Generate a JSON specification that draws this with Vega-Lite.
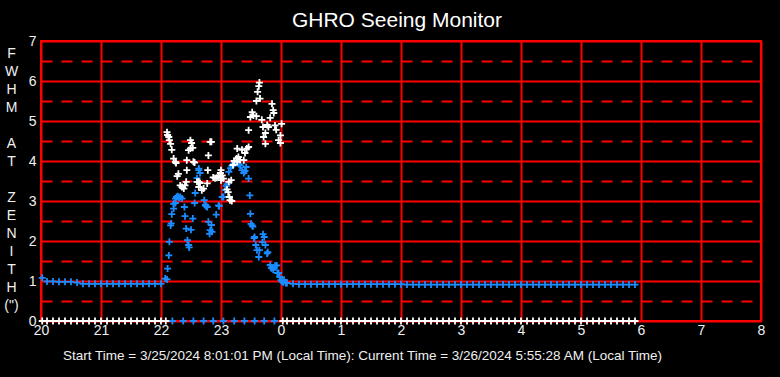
{
"$schema": "https://vega.github.io/schema/vega-lite/v6.json",
"width": 720, "height": 280,
"autosize": {"type": "none"},
"padding": {"left": 41, "top": 41, "right": 19, "bottom": 56},
"background": "#000000",
"title": {"text": "GHRO Seeing Monitor", "color": "#ffffff", "font": "Liberation Sans", "fontSize": 21, "fontWeight": "normal", "anchor": "middle", "dx": -4, "offset": 3},
"config": {"view": {"stroke": "#ff0000", "strokeWidth": 2}},
"data": {"values": [
{"h":20.02,"f":1.08,"s":"blue"},{"h":20.1,"f":0.99,"s":"blue"},{"h":20.2,"f":0.99,"s":"blue"},{"h":20.3,"f":0.98,"s":"blue"},{"h":20.4,"f":0.98,"s":"blue"},{"h":20.5,"f":0.98,"s":"blue"},{"h":20.6,"f":0.96,"s":"blue"},{"h":20.7,"f":0.93,"s":"blue"},{"h":20.8,"f":0.93,"s":"blue"},{"h":20.9,"f":0.93,"s":"blue"},{"h":21.0,"f":0.93,"s":"blue"},{"h":21.1,"f":0.93,"s":"blue"},{"h":21.2,"f":0.93,"s":"blue"},{"h":21.3,"f":0.93,"s":"blue"},{"h":21.4,"f":0.93,"s":"blue"},{"h":21.5,"f":0.93,"s":"blue"},{"h":21.6,"f":0.93,"s":"blue"},{"h":21.7,"f":0.93,"s":"blue"},{"h":21.8,"f":0.93,"s":"blue"},{"h":21.9,"f":0.93,"s":"blue"},{"h":22.0,"f":0.93,"s":"blue"},{"h":22.07,"f":1.06,"s":"blue"},
{"h":22.1,"f":1.04,"s":"blue"},{"h":22.11,"f":1.31,"s":"blue"},{"h":22.13,"f":1.64,"s":"blue"},{"h":22.14,"f":1.98,"s":"blue"},{"h":22.16,"f":2.39,"s":"blue"},{"h":22.17,"f":2.44,"s":"blue"},{"h":22.18,"f":2.67,"s":"blue"},{"h":22.21,"f":2.81,"s":"blue"},{"h":22.21,"f":2.93,"s":"blue"},{"h":22.24,"f":2.95,"s":"blue"},{"h":22.24,"f":3.06,"s":"blue"},{"h":22.26,"f":3.1,"s":"blue"},{"h":22.28,"f":3.12,"s":"blue"},{"h":22.3,"f":3.08,"s":"blue"},{"h":22.32,"f":3.1,"s":"blue"},{"h":22.35,"f":3.06,"s":"blue"},{"h":22.39,"f":2.85,"s":"blue"},{"h":22.4,"f":2.62,"s":"blue"},{"h":22.42,"f":2.31,"s":"blue"},{"h":22.44,"f":2.02,"s":"blue"},{"h":22.46,"f":1.9,"s":"blue"},{"h":22.47,"f":1.84,"s":"blue"},{"h":22.5,"f":2.28,"s":"blue"},{"h":22.53,"f":2.56,"s":"blue"},{"h":22.56,"f":2.95,"s":"blue"},{"h":22.57,"f":3.2,"s":"blue"},{"h":22.6,"f":3.57,"s":"blue"},{"h":22.63,"f":3.77,"s":"blue"},{"h":22.63,"f":3.81,"s":"blue"},{"h":22.65,"f":3.7,"s":"blue"},{"h":22.72,"f":3.02,"s":"blue"},{"h":22.74,"f":2.9,"s":"blue"},{"h":22.75,"f":2.87,"s":"blue"},{"h":22.77,"f":2.85,"s":"blue"},{"h":22.79,"f":2.48,"s":"blue"},{"h":22.81,"f":2.18,"s":"blue"},{"h":22.82,"f":2.27,"s":"blue"},{"h":22.84,"f":2.4,"s":"blue"},{"h":22.85,"f":2.23,"s":"blue"},{"h":22.92,"f":2.66,"s":"blue"},{"h":22.96,"f":2.89,"s":"blue"},{"h":22.97,"f":2.87,"s":"blue"},{"h":23.02,"f":3.1,"s":"blue"},{"h":23.04,"f":3.1,"s":"blue"},{"h":23.07,"f":3.27,"s":"blue"},{"h":23.09,"f":3.37,"s":"blue"},{"h":23.1,"f":3.42,"s":"blue"},{"h":23.13,"f":3.73,"s":"blue"},{"h":23.16,"f":3.82,"s":"blue"},{"h":23.18,"f":3.88,"s":"blue"},{"h":23.21,"f":3.92,"s":"blue"},{"h":23.24,"f":3.95,"s":"blue"},{"h":23.27,"f":3.95,"s":"blue"},{"h":23.3,"f":3.92,"s":"blue"},{"h":23.32,"f":3.89,"s":"blue"},{"h":23.35,"f":3.77,"s":"blue"},{"h":23.38,"f":3.7,"s":"blue"},{"h":23.4,"f":3.75,"s":"blue"},{"h":23.42,"f":3.85,"s":"blue"},{"h":23.46,"f":3.56,"s":"blue"},{"h":23.48,"f":3.14,"s":"blue"},{"h":23.49,"f":2.68,"s":"blue"},{"h":23.5,"f":2.43,"s":"blue"},{"h":23.52,"f":2.39,"s":"blue"},{"h":23.53,"f":2.36,"s":"blue"},{"h":23.55,"f":2.07,"s":"blue"},{"h":23.56,"f":2.1,"s":"blue"},{"h":23.58,"f":1.9,"s":"blue"},{"h":23.6,"f":1.77,"s":"blue"},{"h":23.63,"f":1.6,"s":"blue"},{"h":23.64,"f":1.77,"s":"blue"},{"h":23.69,"f":1.97,"s":"blue"},{"h":23.7,"f":2.17,"s":"blue"},{"h":23.72,"f":2.1,"s":"blue"},{"h":23.74,"f":1.9,"s":"blue"},{"h":23.77,"f":1.69,"s":"blue"},{"h":23.78,"f":1.72,"s":"blue"},{"h":23.82,"f":1.4,"s":"blue"},{"h":23.84,"f":1.32,"s":"blue"},{"h":23.85,"f":1.34,"s":"blue"},{"h":23.87,"f":1.28,"s":"blue"},{"h":23.9,"f":1.38,"s":"blue"},{"h":23.93,"f":1.39,"s":"blue"},{"h":23.94,"f":1.2,"s":"blue"},{"h":23.96,"f":1.2,"s":"blue"},{"h":23.98,"f":1.1,"s":"blue"},{"h":24.0,"f":1.02,"s":"blue"},{"h":24.02,"f":0.98,"s":"blue"},{"h":24.04,"f":0.97,"s":"blue"},{"h":24.05,"f":1.03,"s":"blue"},{"h":24.08,"f":0.95,"s":"blue"},
{"h":24.1,"f":0.95,"s":"blue"},{"h":24.2,"f":0.93,"s":"blue"},{"h":24.3,"f":0.92,"s":"blue"},{"h":24.4,"f":0.92,"s":"blue"},{"h":24.5,"f":0.92,"s":"blue"},{"h":24.6,"f":0.92,"s":"blue"},{"h":24.7,"f":0.92,"s":"blue"},{"h":24.8,"f":0.92,"s":"blue"},{"h":24.9,"f":0.92,"s":"blue"},{"h":25.0,"f":0.92,"s":"blue"},{"h":25.1,"f":0.92,"s":"blue"},{"h":25.2,"f":0.92,"s":"blue"},{"h":25.3,"f":0.92,"s":"blue"},{"h":25.4,"f":0.92,"s":"blue"},{"h":25.5,"f":0.92,"s":"blue"},{"h":25.6,"f":0.92,"s":"blue"},{"h":25.7,"f":0.92,"s":"blue"},{"h":25.8,"f":0.92,"s":"blue"},{"h":25.9,"f":0.92,"s":"blue"},{"h":26.0,"f":0.92,"s":"blue"},{"h":26.1,"f":0.91,"s":"blue"},{"h":26.2,"f":0.91,"s":"blue"},{"h":26.3,"f":0.91,"s":"blue"},{"h":26.4,"f":0.91,"s":"blue"},{"h":26.5,"f":0.91,"s":"blue"},{"h":26.6,"f":0.91,"s":"blue"},{"h":26.7,"f":0.91,"s":"blue"},{"h":26.8,"f":0.91,"s":"blue"},{"h":26.9,"f":0.91,"s":"blue"},{"h":27.0,"f":0.91,"s":"blue"},{"h":27.1,"f":0.91,"s":"blue"},{"h":27.2,"f":0.91,"s":"blue"},{"h":27.3,"f":0.91,"s":"blue"},{"h":27.4,"f":0.91,"s":"blue"},{"h":27.5,"f":0.91,"s":"blue"},{"h":27.6,"f":0.91,"s":"blue"},{"h":27.7,"f":0.91,"s":"blue"},{"h":27.8,"f":0.91,"s":"blue"},{"h":27.9,"f":0.91,"s":"blue"},{"h":28.0,"f":0.91,"s":"blue"},{"h":28.1,"f":0.91,"s":"blue"},{"h":28.2,"f":0.91,"s":"blue"},{"h":28.3,"f":0.91,"s":"blue"},{"h":28.4,"f":0.91,"s":"blue"},{"h":28.5,"f":0.91,"s":"blue"},{"h":28.6,"f":0.91,"s":"blue"},{"h":28.7,"f":0.91,"s":"blue"},{"h":28.8,"f":0.91,"s":"blue"},{"h":28.9,"f":0.91,"s":"blue"},{"h":29.0,"f":0.91,"s":"blue"},{"h":29.1,"f":0.91,"s":"blue"},{"h":29.2,"f":0.91,"s":"blue"},{"h":29.3,"f":0.91,"s":"blue"},{"h":29.4,"f":0.91,"s":"blue"},{"h":29.5,"f":0.91,"s":"blue"},{"h":29.6,"f":0.91,"s":"blue"},{"h":29.7,"f":0.91,"s":"blue"},{"h":29.8,"f":0.91,"s":"blue"},{"h":29.9,"f":0.91,"s":"blue"},
{"h":22.19,"f":0,"s":"blue"},{"h":22.37,"f":0,"s":"blue"},{"h":22.54,"f":0,"s":"blue"},{"h":22.71,"f":0,"s":"blue"},{"h":22.87,"f":0,"s":"blue"},{"h":23.04,"f":0,"s":"blue"},{"h":23.22,"f":0,"s":"blue"},{"h":23.39,"f":0,"s":"blue"},{"h":23.56,"f":0,"s":"blue"},{"h":23.72,"f":0,"s":"blue"},{"h":23.89,"f":0,"s":"blue"},
{"h":22.1,"f":4.72,"s":"white"},{"h":22.11,"f":4.65,"s":"white"},{"h":22.13,"f":4.6,"s":"white"},{"h":22.14,"f":4.52,"s":"white"},{"h":22.16,"f":4.43,"s":"white"},{"h":22.18,"f":4.28,"s":"white"},{"h":22.21,"f":4.06,"s":"white"},{"h":22.24,"f":3.98,"s":"white"},{"h":22.25,"f":3.95,"s":"white"},{"h":22.27,"f":3.62,"s":"white"},{"h":22.29,"f":3.68,"s":"white"},{"h":22.32,"f":3.39,"s":"white"},{"h":22.35,"f":3.35,"s":"white"},{"h":22.38,"f":3.31,"s":"white"},{"h":22.4,"f":3.39,"s":"white"},{"h":22.42,"f":3.48,"s":"white"},{"h":22.43,"f":3.77,"s":"white"},{"h":22.43,"f":4.02,"s":"white"},{"h":22.46,"f":4.27,"s":"white"},{"h":22.49,"f":4.31,"s":"white"},{"h":22.49,"f":4.52,"s":"white"},{"h":22.51,"f":4.45,"s":"white"},{"h":22.53,"f":4.33,"s":"white"},{"h":22.54,"f":3.98,"s":"white"},{"h":22.56,"f":3.96,"s":"white"},{"h":22.6,"f":3.48,"s":"white"},{"h":22.63,"f":3.35,"s":"white"},{"h":22.63,"f":3.48,"s":"white"},{"h":22.65,"f":3.45,"s":"white"},{"h":22.68,"f":3.27,"s":"white"},{"h":22.71,"f":3.31,"s":"white"},{"h":22.77,"f":3.44,"s":"white"},{"h":22.78,"f":3.77,"s":"white"},{"h":22.79,"f":4.14,"s":"white"},{"h":22.82,"f":4.48,"s":"white"},{"h":22.84,"f":4.48,"s":"white"},{"h":22.87,"f":3.59,"s":"white"},{"h":22.9,"f":3.57,"s":"white"},{"h":22.93,"f":3.58,"s":"white"},{"h":22.96,"f":3.62,"s":"white"},{"h":22.99,"f":3.7,"s":"white"},{"h":23.0,"f":3.52,"s":"white"},{"h":23.0,"f":3.77,"s":"white"},{"h":23.02,"f":3.64,"s":"white"},{"h":23.04,"f":3.56,"s":"white"},{"h":23.1,"f":3.29,"s":"white"},{"h":23.12,"f":3.22,"s":"white"},{"h":23.13,"f":3.48,"s":"white"},{"h":23.14,"f":3.1,"s":"white"},{"h":23.15,"f":3.02,"s":"white"},{"h":23.17,"f":3.52,"s":"white"},{"h":23.18,"f":3.0,"s":"white"},{"h":23.2,"f":3.9,"s":"white"},{"h":23.22,"f":4.0,"s":"white"},{"h":23.26,"f":4.06,"s":"white"},{"h":23.27,"f":4.31,"s":"white"},{"h":23.27,"f":3.98,"s":"white"},{"h":23.29,"f":4.1,"s":"white"},{"h":23.32,"f":4.03,"s":"white"},{"h":23.35,"f":4.28,"s":"white"},{"h":23.38,"f":4.02,"s":"white"},{"h":23.4,"f":4.2,"s":"white"},{"h":23.43,"f":4.31,"s":"white"},{"h":23.46,"f":4.35,"s":"white"},{"h":23.46,"f":4.77,"s":"white"},{"h":23.49,"f":5.1,"s":"white"},{"h":23.52,"f":5.22,"s":"white"},{"h":23.54,"f":5.14,"s":"white"},{"h":23.59,"f":5.12,"s":"white"},{"h":23.59,"f":5.5,"s":"white"},{"h":23.61,"f":5.73,"s":"white"},{"h":23.63,"f":5.87,"s":"white"},{"h":23.64,"f":5.96,"s":"white"},{"h":23.65,"f":5.56,"s":"white"},{"h":23.68,"f":5.03,"s":"white"},{"h":23.7,"f":4.85,"s":"white"},{"h":23.71,"f":4.6,"s":"white"},{"h":23.74,"f":4.7,"s":"white"},{"h":23.74,"f":4.43,"s":"white"},{"h":23.77,"f":4.9,"s":"white"},{"h":23.79,"f":4.85,"s":"white"},{"h":23.82,"f":5.08,"s":"white"},{"h":23.85,"f":5.43,"s":"white"},{"h":23.87,"f":5.27,"s":"white"},{"h":23.88,"f":5.2,"s":"white"},{"h":23.9,"f":4.89,"s":"white"},{"h":23.92,"f":4.78,"s":"white"},{"h":23.96,"f":4.52,"s":"white"},{"h":23.99,"f":4.45,"s":"white"},{"h":23.99,"f":4.64,"s":"white"},{"h":24.01,"f":4.93,"s":"white"},
{"h":20.02,"f":0,"s":"white"},{"h":20.1,"f":0,"s":"white"},{"h":20.2,"f":0,"s":"white"},{"h":20.3,"f":0,"s":"white"},{"h":20.4,"f":0,"s":"white"},{"h":20.5,"f":0,"s":"white"},{"h":20.6,"f":0,"s":"white"},{"h":20.7,"f":0,"s":"white"},{"h":20.8,"f":0,"s":"white"},{"h":20.9,"f":0,"s":"white"},{"h":21.0,"f":0,"s":"white"},{"h":21.1,"f":0,"s":"white"},{"h":21.2,"f":0,"s":"white"},{"h":21.3,"f":0,"s":"white"},{"h":21.4,"f":0,"s":"white"},{"h":21.5,"f":0,"s":"white"},{"h":21.6,"f":0,"s":"white"},{"h":21.7,"f":0,"s":"white"},{"h":21.8,"f":0,"s":"white"},{"h":21.9,"f":0,"s":"white"},{"h":22.0,"f":0,"s":"white"},{"h":22.08,"f":0,"s":"white"},
{"h":24.03,"f":0,"s":"white"},{"h":24.1,"f":0,"s":"white"},{"h":24.2,"f":0,"s":"white"},{"h":24.3,"f":0,"s":"white"},{"h":24.4,"f":0,"s":"white"},{"h":24.5,"f":0,"s":"white"},{"h":24.6,"f":0,"s":"white"},{"h":24.7,"f":0,"s":"white"},{"h":24.8,"f":0,"s":"white"},{"h":24.9,"f":0,"s":"white"},{"h":25.0,"f":0,"s":"white"},{"h":25.1,"f":0,"s":"white"},{"h":25.2,"f":0,"s":"white"},{"h":25.3,"f":0,"s":"white"},{"h":25.4,"f":0,"s":"white"},{"h":25.5,"f":0,"s":"white"},{"h":25.6,"f":0,"s":"white"},{"h":25.7,"f":0,"s":"white"},{"h":25.8,"f":0,"s":"white"},{"h":25.9,"f":0,"s":"white"},{"h":26.0,"f":0,"s":"white"},{"h":26.1,"f":0,"s":"white"},{"h":26.2,"f":0,"s":"white"},{"h":26.3,"f":0,"s":"white"},{"h":26.4,"f":0,"s":"white"},{"h":26.5,"f":0,"s":"white"},{"h":26.6,"f":0,"s":"white"},{"h":26.7,"f":0,"s":"white"},{"h":26.8,"f":0,"s":"white"},{"h":26.9,"f":0,"s":"white"},{"h":27.0,"f":0,"s":"white"},{"h":27.1,"f":0,"s":"white"},{"h":27.2,"f":0,"s":"white"},{"h":27.3,"f":0,"s":"white"},{"h":27.4,"f":0,"s":"white"},{"h":27.5,"f":0,"s":"white"},{"h":27.6,"f":0,"s":"white"},{"h":27.7,"f":0,"s":"white"},{"h":27.8,"f":0,"s":"white"},{"h":27.9,"f":0,"s":"white"},{"h":28.0,"f":0,"s":"white"},{"h":28.1,"f":0,"s":"white"},{"h":28.2,"f":0,"s":"white"},{"h":28.3,"f":0,"s":"white"},{"h":28.4,"f":0,"s":"white"},{"h":28.5,"f":0,"s":"white"},{"h":28.6,"f":0,"s":"white"},{"h":28.7,"f":0,"s":"white"},{"h":28.8,"f":0,"s":"white"},{"h":28.9,"f":0,"s":"white"},{"h":29.0,"f":0,"s":"white"},{"h":29.1,"f":0,"s":"white"},{"h":29.2,"f":0,"s":"white"},{"h":29.3,"f":0,"s":"white"},{"h":29.4,"f":0,"s":"white"},{"h":29.5,"f":0,"s":"white"},{"h":29.6,"f":0,"s":"white"},{"h":29.7,"f":0,"s":"white"},{"h":29.8,"f":0,"s":"white"},{"h":29.9,"f":0,"s":"white"}
]},
"mark": {"type": "point", "shape": "M-1,0H1M0,-1V1", "filled": false, "size": 49, "strokeWidth": 1.8, "opacity": 1, "clip": false},
"encoding": {
  "x": {"field": "h", "type": "quantitative",
    "scale": {"domain": [20, 32], "nice": false, "zero": false},
    "axis": {"values": [20,21,22,23,24,25,26,27,28,29,30,31,32], "format": "d",
      "labelExpr": "datum.value >= 24 ? '' + (datum.value - 24) : datum.label",
      "grid": true, "gridColor": "#ff0000", "gridWidth": 2, "gridOpacity": 1,
      "domain": false, "ticks": false, "labelColor": "#f0f0f0", "labelFont": "Liberation Sans", "labelFontSize": 14, "labelPadding": 2, "labelFlush": false, "labelOverlap": false,
      "title": "Start Time = 3/25/2024 8:01:01 PM (Local Time): Current Time = 3/26/2024 5:55:28 AM (Local Time)",
      "titleColor": "#f0f0f0", "titleFont": "Liberation Sans", "titleFontSize": 13.5, "titleFontWeight": "normal",
      "titleX": 321, "titleY": 34, "titleAlign": "center", "titleBaseline": "middle", "titleAnchor": null}},
  "y": {"field": "f", "type": "quantitative",
    "scale": {"domain": [0, 7], "nice": false},
    "axis": {"values": [0,0.5,1,1.5,2,2.5,3,3.5,4,4.5,5,5.5,6,6.5,7],
      "labelExpr": "datum.value % 1 ? '' : format(datum.value, 'd')",
      "grid": true, "gridColor": "#ff0000", "gridWidth": 2, "gridOpacity": 1,
      "gridDash": {"condition": {"test": "datum.value % 1 !== 0", "value": [11, 9]}, "value": []},
      "domain": false, "ticks": false, "labelColor": "#f0f0f0", "labelFont": "Liberation Sans", "labelFontSize": 14, "labelPadding": 5, "labelOverlap": false, "labelFlush": false,
      "title": ["F","W","H","M","\u200b","A","T","\u200b","Z","E","N","I","T","H","(\")"],
      "titleColor": "#f0f0f0", "titleFont": "Liberation Sans", "titleFontSize": 14, "titleFontWeight": "normal",
      "titleAngle": 0, "titleAlign": "center", "titleBaseline": "top", "titleX": -30, "titleY": 5, "titleLineHeight": 18}},
  "color": {"field": "s", "type": "nominal", "scale": {"domain": ["blue", "white"], "range": ["#1a8cff", "#ffffff"]}, "legend": null}
}
}
